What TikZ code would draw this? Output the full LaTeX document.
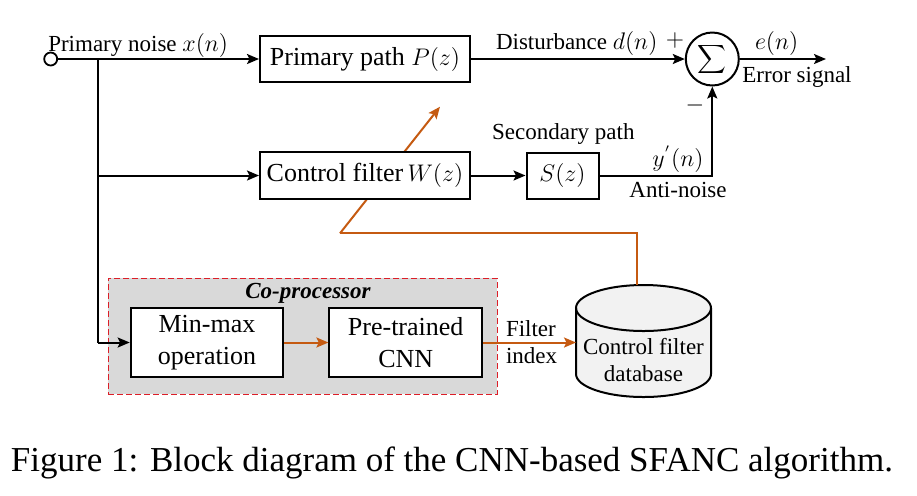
\documentclass[tikz,border=0pt]{standalone}
\usepackage{fontspec}
\setmainfont{Liberation Serif}
\usetikzlibrary{arrows.meta}
\definecolor{orng}{RGB}{197,90,17}
\definecolor{dred}{RGB}{220,30,40}
\definecolor{cpgray}{RGB}{217,217,217}
\definecolor{dbgray}{RGB}{242,242,242}
\begin{document}
\begin{tikzpicture}[x=0.5pt,y=-0.5pt,
  font=\fontsize{11.5}{13.5}\selectfont,
  line width=1pt,
  >={Stealth[length=6pt,width=5pt,inset=1.2pt]},
  blk/.style={draw,line width=1pt,fill=white,inner sep=0pt,align=center,font=\fontsize{13}{16}\selectfont},
  lbl/.style={inner sep=0pt,align=center},
  oline/.style={draw=orng,color=orng,line width=1pt}]
\useasboundingbox (0,0) rectangle (917,495);
% coordinates
\coordinate (out) at (826,59);
\coordinate (br1) at (97.7,59);
\coordinate (br2) at (97.7,175.5);
\coordinate (br3) at (97.7,342.5);
\coordinate (an) at (712.3,175.5);
\coordinate (ostart) at (340,233.3);
\coordinate (otip) at (440,106.7);
\coordinate (ocorner) at (637,233.3);
\coordinate (dbtop) at (637,285.1);
\coordinate (dbleft) at (576,342.5);
% orange diagonal (behind the control filter box)
\draw[oline,->] (ostart) -- (otip);
% co-processor frame
\node[draw=dred,dashed,dash pattern=on 3pt off 1.5pt,fill=cpgray,line width=0.75pt,inner sep=0pt,
      minimum width=194.5pt,minimum height=58pt] (cop) at (302.8,336.3) {};
\node[lbl,font=\fontsize{11.5}{13.5}\selectfont\bfseries\itshape] (coplbl) at (308,293) {Co-processor};
% blocks
\node[blk,minimum width=76.3pt,minimum height=34.8pt] (mm) at (207,342.5) {Min-max\\operation};
\node[blk,minimum width=76.3pt,minimum height=34.8pt] (cnn) at (405.7,342.5) {Pre-trained\\CNN};
\node[draw,circle,minimum size=6.5pt,inner sep=0pt,fill=white,line width=0.9pt] (in) at (50.7,59) {};
\node[blk,minimum width=105pt,minimum height=23pt] (pp) at (365,59) {Primary path $P(z)$};
\node[blk,minimum width=105pt,minimum height=23.5pt] (cf) at (365,175.5) {Control filter\,$W(z)$};
\node[blk,minimum width=36pt,minimum height=23pt] (sz) at (562.5,175.5) {$S(z)$};
\node[draw,circle,minimum size=26.5pt,inner sep=0pt,line width=1pt] (sum) at (712.3,59) {\fontsize{11}{13}\selectfont$\displaystyle\sum$};
% cylinder
\fill[dbgray] (576,308) -- (576,374) arc[start angle=180,end angle=0,x radius=67.5,y radius=23] -- (711,308) -- cycle;
\fill[dbgray] (643.5,308) ellipse[x radius=67.5,y radius=23];
\draw (576,308) -- (576,374) arc[start angle=180,end angle=0,x radius=67.5,y radius=23] -- (711,308);
\draw (643.5,308) ellipse[x radius=67.5,y radius=23];
\node[lbl] (db) at (643.5,360) {Control filter\\database};
% black connectors
\draw[->] (in) -- (pp);
\draw (br1) -- (br3);
\draw[->] (br2) -- (cf);
\draw[->] (br3) -- (mm);
\draw[->] (pp) -- (sum);
\draw[->] (sum) -- (out);
\draw[->] (cf) -- (sz);
\draw[->] (sz) -- (an) -- (sum);
% orange connectors
\draw[oline] (ostart) -- (ocorner) -- (dbtop);
\draw[oline,->] (mm) -- (cnn);
\draw[oline,->] (cnn) -- (dbleft);
% labels
\node[lbl,anchor=base west] (l1) at (47.3,51.7) {Primary noise $x(n)$};
\node[lbl] (l2) at (576.7,43.3) {Disturbance $d(n)$};
\node[lbl] (l3) at (675,40) {$+$};
\node[lbl] (l4) at (695,105) {$-$};
\node[lbl] (l5) at (776.7,43.3) {$e(n)$};
\node[lbl] (l6) at (797,76.7) {Error signal};
\node[lbl] (l7) at (563.3,134) {Secondary path};
\node[lbl] (l8) at (678,159) {$y^{'}(n)$};
\node[lbl] (l9) at (678,190) {Anti-noise};
\node[lbl,align=left,anchor=west] (l10) at (505,342.5) {Filter\\index};
% caption
\node[lbl,font=\fontsize{17.5}{20}\selectfont] (cap) at (452,463) {Figure 1: Block diagram of the CNN-based SFANC algorithm.};
\end{tikzpicture}
\end{document}
